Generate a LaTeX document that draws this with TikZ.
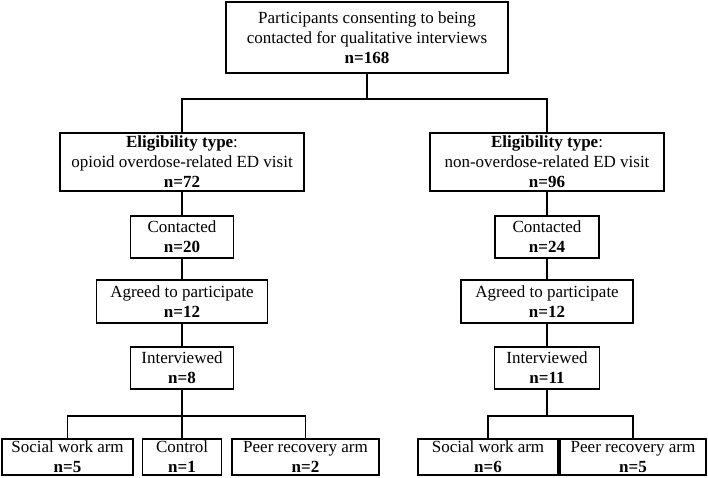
\documentclass[tikz,border=0pt]{standalone}
\usepackage{fontspec}
\setmainfont{Liberation Serif}
\tikzset{
  box/.style={draw=black, line width=1.2pt, fill=white, inner sep=0pt, align=center,
    font=\fontsize{17}{20}\selectfont},
  conn/.style={draw=black, line width=1.2pt}
}
\begin{document}
\begin{tikzpicture}[x=1pt,y=-1pt]
\useasboundingbox (0,0) rectangle (708,478);
% top
\node[box, minimum width=282, minimum height=71] (top) at (367,37.5)
  {Participants consenting to being\\contacted for qualitative interviews\\\textbf{n=168}};
% eligibility
\node[box, minimum width=244, minimum height=58] (eL) at (182,162)
  {\textbf{Eligibility type}:\\opioid overdose-related ED visit\\\textbf{n=72}};
\node[box, minimum width=234, minimum height=58] (eR) at (547,162)
  {\textbf{Eligibility type}:\\non-overdose-related ED visit\\\textbf{n=96}};
% contacted
\node[box, minimum width=103, minimum height=42] (cL) at (182,237) {Contacted\\\textbf{n=20}};
\node[box, minimum width=104, minimum height=42] (cR) at (547,237) {Contacted\\\textbf{n=24}};
% agreed
\node[box, minimum width=171, minimum height=43] (aL) at (182,301.5) {Agreed to participate\\\textbf{n=12}};
\node[box, minimum width=172, minimum height=43] (aR) at (547,301.5) {Agreed to participate\\\textbf{n=12}};
% interviewed
\node[box, minimum width=103, minimum height=42] (iL) at (182,368) {Interviewed\\\textbf{n=8}};
\node[box, minimum width=105, minimum height=42] (iR) at (547,368) {Interviewed\\\textbf{n=11}};
% arms
\node[box, minimum width=131, minimum height=36] (sL) at (67.5,457) {Social work arm\\\textbf{n=5}};
\node[box, minimum width=79, minimum height=36] (ctl) at (182,457) {Control\\\textbf{n=1}};
\node[box, minimum width=147, minimum height=36] (pL) at (305.5,457) {Peer recovery arm\\\textbf{n=2}};
\node[box, minimum width=140, minimum height=36] (sR) at (488,457) {Social work arm\\\textbf{n=6}};
\node[box, minimum width=146, minimum height=36] (pR) at (633,457) {Peer recovery arm\\\textbf{n=5}};
% junctions
\coordinate (j0) at (367,99);
\coordinate (j1) at (182,416);
\coordinate (j2) at (547,416);
% connectors
\draw[conn] (top.south) -- (j0);
\draw[conn] (eL.north) |- (j0) -| (eR.north);
\draw[conn] (eL.south) -- (cL.north);
\draw[conn] (cL.south) -- (aL.north);
\draw[conn] (aL.south) -- (iL.north);
\draw[conn] (eR.south) -- (cR.north);
\draw[conn] (cR.south) -- (aR.north);
\draw[conn] (aR.south) -- (iR.north);
\draw[conn] (iL.south) -- (j1);
\draw[conn] (sL.north) |- (j1) -| (pL.north);
\draw[conn] (j1) -- (ctl.north);
\draw[conn] (iR.south) -- (j2);
\draw[conn] (sR.north) |- (j2) -| (pR.north);
\end{tikzpicture}
\end{document}
